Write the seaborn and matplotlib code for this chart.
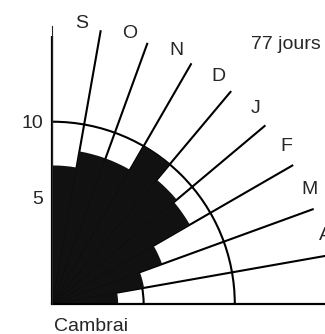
import numpy as np
import pandas as pd
import matplotlib
matplotlib.use("Agg")
import matplotlib.pyplot as plt
import seaborn as sns

# Données (un secteur de 10° par mois)
mois = ["S", "O", "N", "D", "J", "F", "M", "A", "M"]
angles_deg = [85, 75, 65, 55, 45, 35, 25, 15, 5]
valeurs = [7.6, 8.5, 8.5, 10.0, 8.9, 8.7, 6.4, 5.1, 3.6]
graduations = [5, 10]
bornes_deg = [10, 20, 30, 40, 50, 60, 70, 80]
station = "Cambrai"
total = "77 jours"

sns.set_style("white")
plt.rcParams["font.family"] = ["Liberation Sans", "DejaVu Sans"]
plt.rcParams["font.size"] = 14

df = pd.DataFrame({"theta": np.deg2rad(angles_deg), "r": valeurs})

fig = plt.figure(figsize=(3.25, 3.34), dpi=100)
ax = fig.add_axes([0.1615, 0.0898, 0.8554, 0.8323], projection="polar")
ax.set_thetamin(0)
ax.set_thetamax(90)

# Secteurs noirs
sns.barplot(data=df, x="theta", y="r", native_scale=True, orient="x",
            width=1, color="#111111", edgecolor="#111111", linewidth=0,
            errorbar=None, ax=ax)
ax.set_xlabel("")
ax.set_ylabel("")
ax.set_ylim(0, 15.25)

# Rayons et arcs de graduation
ax.set_axisbelow(True)
ax.set_xticks(np.deg2rad(bornes_deg))
ax.set_yticks(graduations)
ax.xaxis.set_ticklabels([])
ax.yaxis.set_ticklabels([])
ax.grid(True, color="black", linewidth=1.5)
ax.spines["polar"].set_visible(False)
ax.spines["end"].set_visible(False)
ax.spines["start"].set_color("black")
ax.spines["start"].set_linewidth(1.6)
# axe vertical un peu plus court que les rayons
ax.vlines(np.pi / 2, 0, 14.7, color="black", linewidth=1.6, clip_on=False)

# Étiquettes des graduations
for t, dy in zip(graduations, [9.5, -1.5]):
    ax.annotate(str(t), xy=(np.pi / 2, t), xytext=(-7, dy),
                textcoords="offset points", ha="right", va="center")

# Noms des mois (le dernier secteur sort du cadre, comme sur l'original)
for m, a in zip(mois[:8], angles_deg[:8]):
    ax.text(np.deg2rad(a - 1), 15.45, m, ha="center", va="center")

fig.text(0.772, 0.852, total, ha="left", va="baseline")
fig.text(0.166, 0.01, station, ha="left", va="baseline")

plt.savefig("out.png", dpi=100)
